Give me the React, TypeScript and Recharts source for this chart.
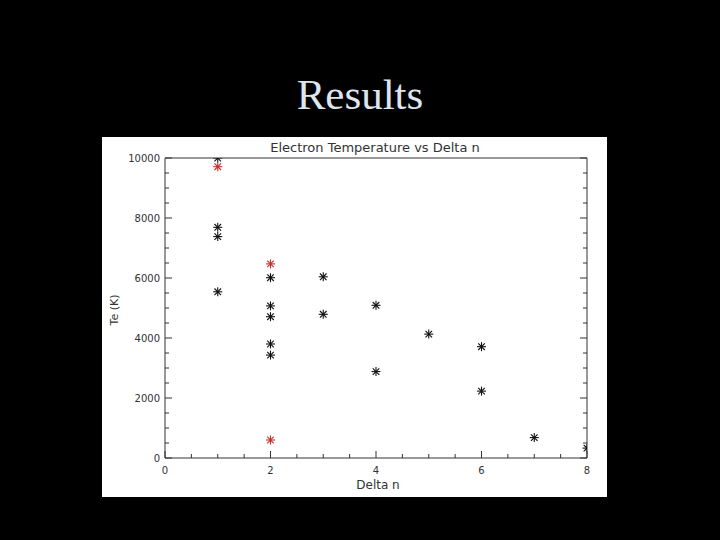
import React from 'react';
import { ScatterChart, Scatter, XAxis, YAxis } from 'recharts';

// Tick positions (minor every 0.5 / 500, labelled every 2 / 2000)
const xTicks = [0, 0.5, 1, 1.5, 2, 2.5, 3, 3.5, 4, 4.5, 5, 5.5, 6, 6.5, 7, 7.5, 8];
const xLabels = [0, 2, 4, 6, 8];
const yTicks = [0, 500, 1000, 1500, 2000, 2500, 3000, 3500, 4000, 4500, 5000, 5500, 6000, 6500, 7000, 7500, 8000, 8500, 9000, 9500, 10000];
const yLabels = [0, 2000, 4000, 6000, 8000, 10000];

// Black asterisks
const blackDeltaN = [1, 1, 1, 1, 2, 2, 2, 2, 2, 3, 3, 4, 4, 5, 6, 6, 7, 8];
const blackTe = [10000, 7690, 7380, 5540, 6010, 5070, 4710, 3800, 3430, 6040, 4790, 5090, 2880, 4130, 3710, 2230, 680, 330];

// Red asterisks
const redDeltaN = [1, 2, 2];
const redTe = [9710, 6470, 600];

const blackData = blackDeltaN.map((d, i) => ({ deltaN: d, te: blackTe[i] }));
const redData = redDeltaN.map((d, i) => ({ deltaN: d, te: redTe[i] }));

const AXIS = '#333';
const TEXT = '#333';
const FONT = '"DejaVu Sans", sans-serif';
const MAJOR = 7;
const MINOR = 4;

const BottomTick = (props: any) => {
  const { x, y, payload } = props;
  const v = payload.value;
  const major = xLabels.includes(v);
  return (
    <g>
      <line x1={x} y1={y} x2={x} y2={y - (major ? MAJOR : MINOR)} stroke={AXIS} strokeWidth={1} />
      {major && (
        <text x={x} y={y + 16} textAnchor="middle" fontSize={10} fontFamily={FONT} fill={TEXT}>
          {v}
        </text>
      )}
    </g>
  );
};

const TopTick = (props: any) => {
  const { x, y, payload } = props;
  const major = xLabels.includes(payload.value);
  return <line x1={x} y1={y} x2={x} y2={y + (major ? MAJOR : MINOR)} stroke={AXIS} strokeWidth={1} />;
};

const LeftTick = (props: any) => {
  const { x, y, payload } = props;
  const v = payload.value;
  const major = yLabels.includes(v);
  return (
    <g>
      <line x1={x} y1={y} x2={x + (major ? MAJOR : MINOR)} y2={y} stroke={AXIS} strokeWidth={1} />
      {major && (
        <text x={x - 5} y={y + 3.6} textAnchor="end" fontSize={10} fontFamily={FONT} fill={TEXT}>
          {v}
        </text>
      )}
    </g>
  );
};

const RightTick = (props: any) => {
  const { x, y, payload } = props;
  const major = yLabels.includes(payload.value);
  return <line x1={x} y1={y} x2={x - (major ? MAJOR : MINOR)} y2={y} stroke={AXIS} strokeWidth={1} />;
};

const makeAsterisk = (color: string) => (props: any) => {
  const { cx, cy } = props;
  if (cx == null || cy == null) return <g />;
  const r = 4.5;
  const d = 3.3;
  return (
    <g stroke={color} strokeWidth={1.1}>
      <line x1={cx - r} y1={cy} x2={cx + r} y2={cy} />
      <line x1={cx} y1={cy - r} x2={cx} y2={cy + r} />
      <line x1={cx - d} y1={cy - d} x2={cx + d} y2={cy + d} />
      <line x1={cx - d} y1={cy + d} x2={cx + d} y2={cy - d} />
    </g>
  );
};

const BlackStar = makeAsterisk('#111');
const RedStar = makeAsterisk('#c0302a');

export default function App() {
  return (
    <div style={{ position: 'fixed', left: 0, top: 0, width: 720, height: 540, background: '#000', overflow: 'hidden' }}>
      <div
        style={{
          position: 'absolute',
          left: 0,
          top: 73,
          width: 720,
          textAlign: 'center',
          fontFamily: '"Liberation Serif", serif',
          fontSize: 43,
          lineHeight: 1,
          color: '#dfe5ee',
        }}
      >
        Results
      </div>
      <div style={{ position: 'absolute', left: 102, top: 137, width: 505, height: 360, background: '#fff' }}>
        <ScatterChart width={505} height={360} margin={{ top: 0, right: 0, bottom: 0, left: 0 }}>
          <XAxis
            xAxisId="b"
            orientation="bottom"
            dataKey="deltaN"
            type="number"
            domain={[0, 8]}
            allowDataOverflow
            ticks={xTicks}
            interval={0}
            height={39}
            tickSize={0}
            tickMargin={0}
            tickLine={false}
            axisLine={{ stroke: AXIS }}
            tick={<BottomTick />}
          />
          <XAxis
            xAxisId="t"
            orientation="top"
            type="number"
            domain={[0, 8]}
            allowDataOverflow
            ticks={xTicks}
            interval={0}
            height={21}
            tickSize={0}
            tickMargin={0}
            tickLine={false}
            axisLine={{ stroke: AXIS }}
            tick={<TopTick />}
          />
          <YAxis
            yAxisId="l"
            orientation="left"
            dataKey="te"
            type="number"
            domain={[0, 10000]}
            allowDataOverflow
            ticks={yTicks}
            interval={0}
            width={63}
            tickSize={0}
            tickMargin={0}
            tickLine={false}
            axisLine={{ stroke: AXIS }}
            tick={<LeftTick />}
          />
          <YAxis
            yAxisId="r"
            orientation="right"
            type="number"
            domain={[0, 10000]}
            allowDataOverflow
            ticks={yTicks}
            interval={0}
            width={20}
            tickSize={0}
            tickMargin={0}
            tickLine={false}
            axisLine={{ stroke: AXIS }}
            tick={<RightTick />}
          />
          <Scatter
            name="Te"
            data={blackData}
            xAxisId="b"
            yAxisId="l"
            shape={BlackStar}
            isAnimationActive={false}
          />
          <Scatter
            name="Te (red)"
            data={redData}
            xAxisId="b"
            yAxisId="l"
            shape={RedStar}
            isAnimationActive={false}
          />
        </ScatterChart>
        <div
          style={{
            position: 'absolute',
            left: 273,
            top: 4,
            transform: 'translateX(-50%)',
            whiteSpace: 'nowrap',
            fontFamily: FONT,
            fontSize: 13,
            lineHeight: '14px',
            color: TEXT,
          }}
        >
          Electron Temperature vs Delta n
        </div>
        <div
          style={{
            position: 'absolute',
            left: 276,
            top: 341,
            transform: 'translateX(-50%)',
            whiteSpace: 'nowrap',
            fontFamily: FONT,
            fontSize: 12,
            lineHeight: '14px',
            color: TEXT,
          }}
        >
          Delta n
        </div>
        <div
          style={{
            position: 'absolute',
            left: 13,
            top: 173,
            transform: 'translate(-50%, -50%) rotate(-90deg)',
            whiteSpace: 'nowrap',
            fontFamily: FONT,
            fontSize: 11,
            lineHeight: '14px',
            color: TEXT,
          }}
        >
          Te (K)
        </div>
      </div>
    </div>
  );
}
